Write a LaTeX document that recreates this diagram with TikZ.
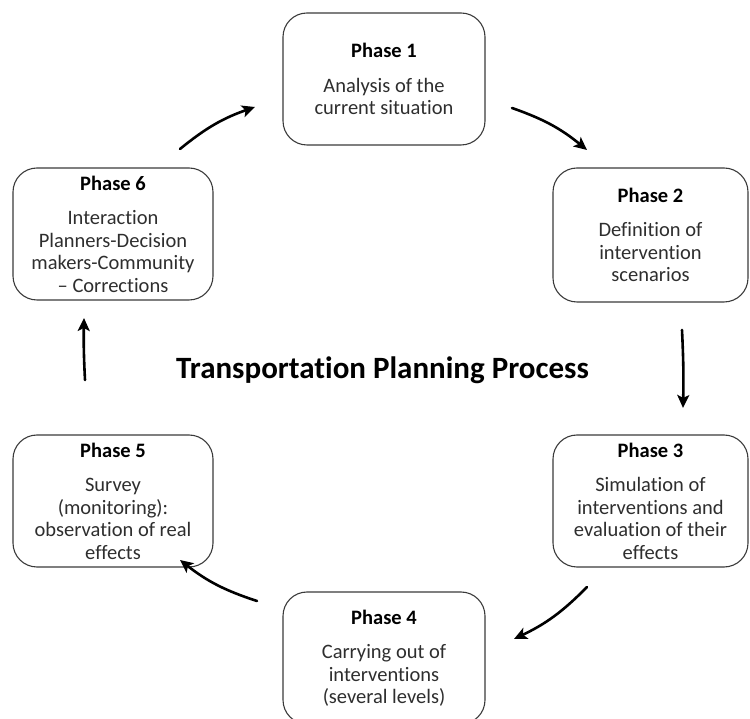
\documentclass[tikz,border=0pt]{standalone}
\usepackage{fontspec}
\setmainfont{Carlito}[Ligatures=NoCommon]
\usetikzlibrary{arrows.meta}
\definecolor{boxline}{HTML}{3A3A3A}
\definecolor{bodytext}{HTML}{2E2E2E}

\tikzset{
  phasebox/.style={draw=boxline, line width=1.1pt, rounded corners=24pt,
    minimum width=#1, minimum height=132pt, align=center, inner sep=0pt,
    font=\fontsize{20.5}{22.5}\selectfont, text=bodytext},
  phasebox/.default=200pt,
  flow/.style={line width=2.6pt, line cap=round,
    -{Stealth[length=13pt,width=12pt,inset=3pt]}},
}
\newcommand{\phasetitle}[1]{{\bfseries\color{black}#1}\\[12pt]}

\begin{document}
\begin{tikzpicture}[x=1pt,y=1pt]
  \useasboundingbox (0,0) rectangle (750,718);

  % the six phases of the cycle
  \node[phasebox=202pt] (p1) at (384,639)
    {\phasetitle{Phase 1}Analysis of the\\current situation};
  \node[phasebox=195pt, minimum height=134pt] (p2) at (650.5,483)
    {\phasetitle{Phase 2}Definition of\\intervention\\scenarios};
  \node[phasebox=195pt] (p3) at (650.5,217)
    {\phasetitle{Phase 3}Simulation of\\interventions and\\evaluation of their\\effects};
  \node[phasebox=202pt] (p4) at (384,60)
    {\phasetitle{Phase 4}Carrying out of\\interventions\\(several levels)};
  \node[phasebox] (p5) at (113,217)
    {\phasetitle{Phase 5}Survey\\(monitoring):\\observation of real\\effects};
  \node[phasebox] (p6) at (113,484)
    {\phasetitle{Phase 6}Interaction\\Planners-Decision\\makers-Community\\– Corrections};

  % central title
  \node[font=\bfseries\fontsize{31}{36}\selectfont] (title) at (382.5,348)
    {Transportation Planning Process};

  % arrow end points between the boxes
  \coordinate (a1s) at (180,569); \coordinate (a1e) at (255,611);
  \coordinate (a2s) at (512,610); \coordinate (a2e) at (587,568);
  \coordinate (a3s) at (682,388); \coordinate (a3e) at (683,310);
  \coordinate (a4s) at (587,131); \coordinate (a4e) at (514,79);
  \coordinate (a5s) at (257,117); \coordinate (a5e) at (180,158);
  \coordinate (a6s) at (85,338);  \coordinate (a6e) at (84,400);

  % clockwise flow
  \draw[flow] (a1s) to[bend left=10] (a1e);
  \draw[flow] (a2s) to[bend left=10] (a2e);
  \draw[flow] (a3s) to[bend left=2] (a3e);
  \draw[flow] (a4s) to[bend left=10] (a4e);
  \draw[flow] (a5s) to[bend left=10] (a5e);
  \draw[flow] (a6s) to[bend left=2] (a6e);
\end{tikzpicture}
\end{document}
